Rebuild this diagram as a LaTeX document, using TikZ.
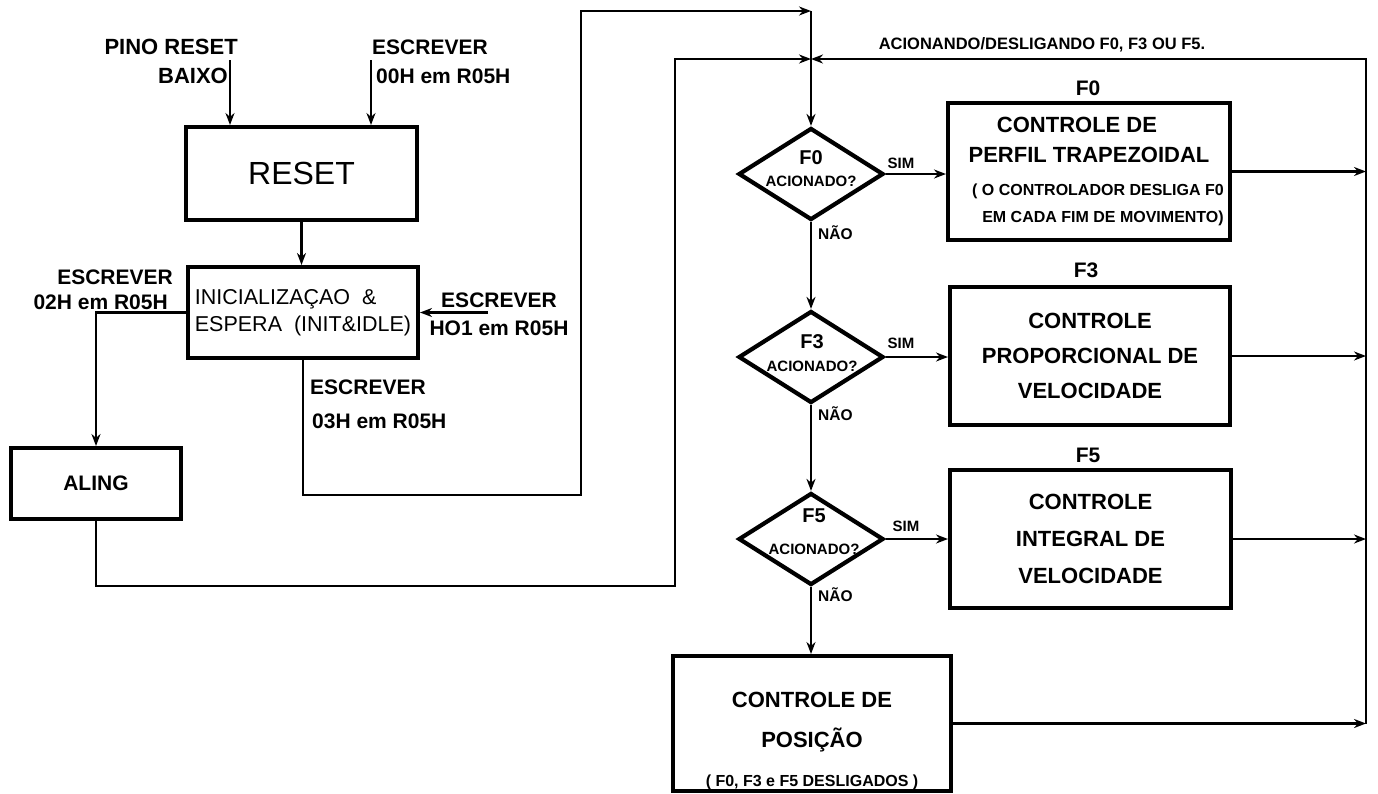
\documentclass[tikz,border=0pt]{standalone}
\usepackage{fontspec}
\setmainfont{Liberation Sans}
\usetikzlibrary{arrows.meta,shapes.geometric}
\newcommand{\myfs}[2]{\fontsize{#1}{#2}\selectfont}
\begin{document}
\begin{tikzpicture}[x=1pt,y=-1pt,
  conn/.style={line width=2.4pt},
  arr/.style={conn,-{Stealth[length=12pt,width=9pt]}},
  blk/.style={draw,line width=4pt,inner sep=0pt,align=center},
  dia/.style={draw,diamond,line width=4.2pt,minimum width=145pt,minimum height=92pt,inner sep=0pt},
  lbl/.style={inner sep=0pt},
  bl/.style={lbl,font=\bfseries\myfs{#1}{#1}},
]
\fill[white] (0,0) rectangle (1378,793);
\useasboundingbox (0,0) rectangle (1378,793);

% ---------- left part ----------
\node[blk,minimum width=231pt,minimum height=93pt,font=\myfs{32}{36}] (reset) at (301.5,173.5) {RESET};
\node[blk,minimum width=230pt,minimum height=91pt,align=left,font=\myfs{21.5}{27}] (init) at (303,312.5)
  {INICIALIZAÇAO\ \ \&\\ESPERA\ \ (INIT\&IDLE)};
\node[blk,minimum width=170pt,minimum height=71pt,font=\bfseries\myfs{21}{25}] (aling) at (96,483.5) {ALING};

\node[lbl,align=right,anchor=east,font=\bfseries\myfs{22}{29}] (pinoL) at (238,61.5) {PINO RESET\\BAIXO\hspace*{10pt}};
\node[lbl,align=left,anchor=west,font=\bfseries\myfs{21}{29}] (e00L) at (372,61.5) {ESCREVER\\\hspace*{4pt}00H em R05H};
\node[lbl,align=right,anchor=east,font=\bfseries\myfs{21}{25}] (e02L) at (173,289.5) {ESCREVER\\02H em R05H\hspace*{5pt}};
\node[lbl,align=center,font=\bfseries\myfs{21}{28}] (eHOL) at (499,314) {ESCREVER\\HO1 em R05H};
\node[lbl,align=left,anchor=west,font=\bfseries\myfs{21}{34}] (e03L) at (310,404) {ESCREVER\\\hspace*{2pt}03H em R05H};

\coordinate (pinoS) at (230,60);
\coordinate (e00S) at (371,60);
\coordinate (hoS) at (488,312.5);
\coordinate (b1) at (581,495);
\coordinate (b2) at (675,586);
\coordinate (jTop) at (811,11);
\coordinate (jMid) at (811,59);
\coordinate (rTop) at (1366,59);

\draw[arr] (pinoS) -- (pinoS |- reset.north);
\draw[arr] (e00S) -- (e00S |- reset.north);
\draw[arr] (reset.south) -- (reset.south |- init.north);
\draw[arr] (init.west) -| (aling.north);
\draw[arr] (hoS) -- (init.east);
\draw[arr] (init.south) |- (b1) |- (jTop);
\draw[arr] (aling.south) |- (b2) |- (jMid);

% ---------- right part ----------
\node[dia] (d0) at (811,174) {};
\node[dia] (d3) at (811,357) {};
\node[dia] (d5) at (811,539) {};
\node[lbl,align=center,font=\bfseries\myfs{15}{22}] (d0t) at (811,169) {{\myfs{20}{22}F0}\\ACIONADO?};
\node[lbl,align=center,font=\bfseries\myfs{15}{23}] (d3t) at (812,353.5) {{\myfs{20}{23}F3}\\ACIONADO?};
\node[lbl,align=center,font=\bfseries\myfs{15}{32}] (d5t) at (814,532) {{\myfs{20}{32}F5}\\ACIONADO?};

\node[blk,minimum width=282pt,minimum height=137pt,font=\bfseries\myfs{22}{30}] (f0) at (1089,171.5)
  {CONTROLE DE\hspace*{24pt}\\PERFIL TRAPEZOIDAL\hspace*{12pt}\\[3pt]{\myfs{16}{16}\hspace*{18pt}( O CONTROLADOR DESLIGA F0}\\[-3pt]{\myfs{16}{16}\hspace*{28pt}EM CADA FIM DE MOVIMENTO)}};
\node[blk,minimum width=280pt,minimum height=138pt,font=\bfseries\myfs{22}{35}] (f3) at (1090,356)
  {CONTROLE\\PROPORCIONAL DE\\VELOCIDADE};
\node[blk,minimum width=281pt,minimum height=138pt,font=\bfseries\myfs{22}{37}] (f5) at (1090.5,539)
  {CONTROLE\\INTEGRAL DE\\VELOCIDADE};
\node[blk,minimum width=278pt,minimum height=135pt] (pos) at (812,723.5) {};
\node[lbl,align=center,font=\bfseries\myfs{22}{40}] (posT) at (812,741)
  {CONTROLE DE\\POSIÇÃO\\[-1pt]{\myfs{16}{16}( F0, F3 e F5 DESLIGADOS )}};

\node[bl=21] (f0L) at (1088,88) {F0};
\node[bl=21] (f3L) at (1086,270) {F3};
\node[bl=21] (f5L) at (1088,455) {F5};
\node[bl=15] (s0) at (901,163) {SIM};
\node[bl=15] (s3) at (901,343) {SIM};
\node[bl=15] (s5) at (906,526) {SIM};
\node[bl=15.5,anchor=west] (n0) at (818,233) {NÃO};
\node[bl=15.5,anchor=west] (n3) at (818,414) {NÃO};
\node[bl=15.5,anchor=west] (n5) at (818,595) {NÃO};
\node[bl=16.5] (acL) at (1042,45) {ACIONANDO/DESLIGANDO F0, F3 OU F5.};

\draw[arr] (jTop) -- (d0.north);
\draw[arr] (d0.south) -- (d3.north);
\draw[arr] (d3.south) -- (d5.north);
\draw[arr] (d5.south) -- (d5.south |- pos.north);
\draw[arr] (d0.east) -- (d0.east -| f0.west);
\draw[arr] (d3.east) -- (d3.east -| f3.west);
\draw[arr] (d5.east) -- (d5.east -| f5.west);
\draw[arr] (f0.east) -- (f0.east -| rTop);
\draw[arr] (f3.east) -- (f3.east -| rTop);
\draw[arr] (f5.east) -- (f5.east -| rTop);
\draw[arr] (pos.east) -- (pos.east -| rTop);
\draw[arr] (pos.east -| rTop) -- (rTop) -- (jMid);
\end{tikzpicture}
\end{document}
